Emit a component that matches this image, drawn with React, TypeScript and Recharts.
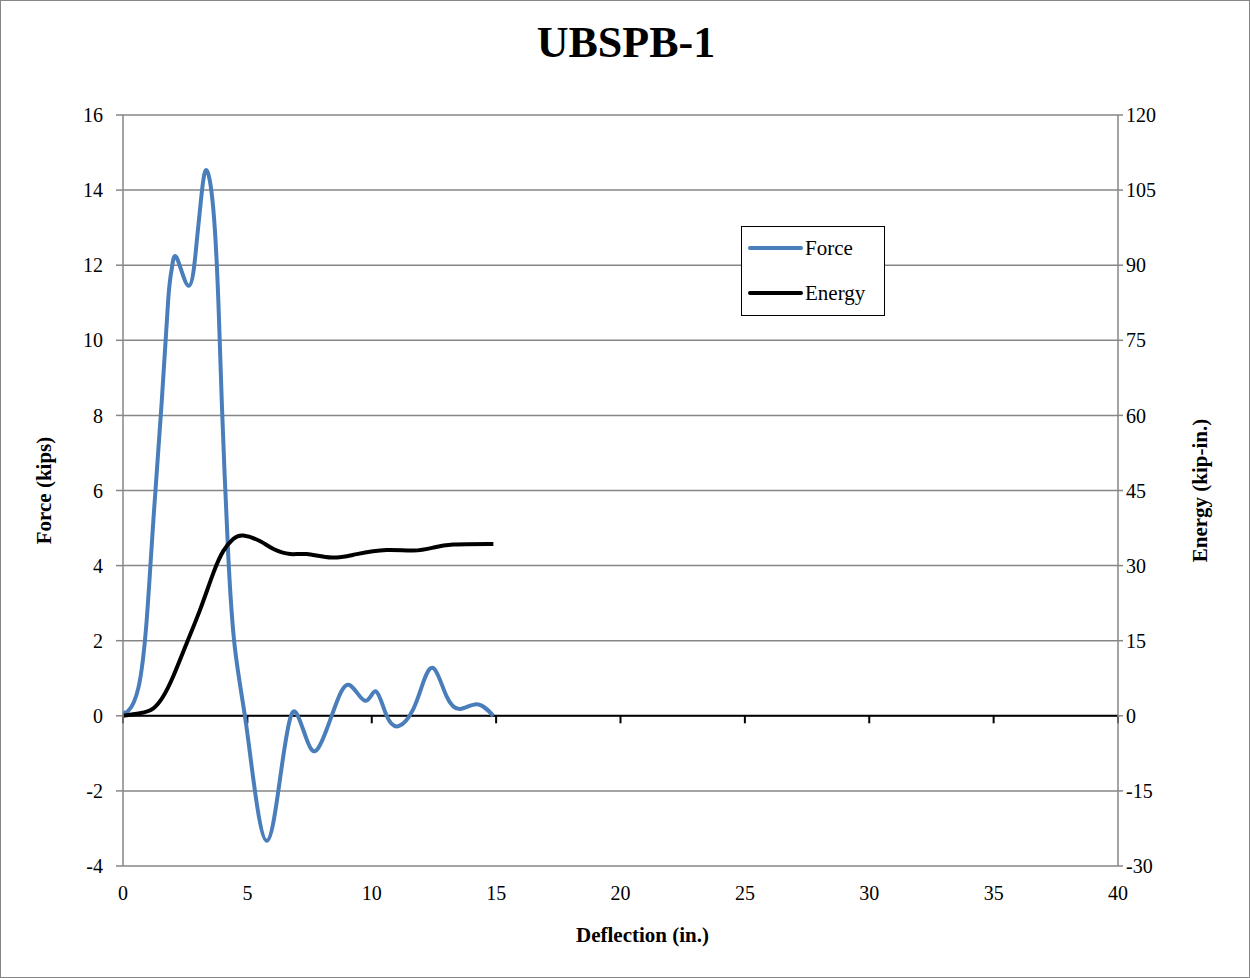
import React from 'react';
import { LineChart, Line, XAxis, YAxis, CartesianGrid, ReferenceLine, Legend } from 'recharts';

const FONT = '"Liberation Serif", "Times New Roman", serif';

const xTicks = [0, 5, 10, 15, 20, 25, 30, 35, 40];
const forceTicks = [-4, -2, 0, 2, 4, 6, 8, 10, 12, 14, 16];
const energyTicks = [-30, -15, 0, 15, 30, 45, 60, 75, 90, 105, 120];

const forceX = [0, 0.21, 0.62, 0.95, 1.22, 1.55, 1.82, 1.96, 2.16, 2.65, 2.96, 3.16, 3.36, 3.63, 3.83, 3.98, 4.23, 4.5, 4.9, 5.24, 5.78, 6.31, 6.65, 6.95, 7.38, 7.76, 8.19, 8.59, 9.1, 9.73, 10.17, 10.6, 11.1, 11.67, 12.07, 12.5, 13.0, 13.55, 14.24, 14.89];
const forceY = [0.1, 0.13, 0.75, 2.53, 5.2, 8.3, 11.1, 11.9, 12.2, 11.45, 12.6, 13.9, 14.53, 13.5, 11.1, 8.2, 4.3, 1.8, 0, -1.69, -3.33, -1.69, -0.27, 0.09, -0.62, -0.93, -0.36, 0.36, 0.82, 0.4, 0.65, 0, -0.27, 0.18, 0.89, 1.26, 0.53, 0.18, 0.31, 0];

const energyX = [0, 0.68, 1.22, 1.62, 2.02, 2.56, 3.1, 3.63, 4.03, 4.43, 4.84, 5.5, 6.05, 6.72, 7.39, 8.4, 9.4, 10.6, 11.67, 12.47, 13.28, 14.89];
const energyY = [0, 0.5, 1.5, 3.9, 7.9, 14.5, 21.2, 28.5, 32.9, 35.3, 36.0, 34.9, 33.3, 32.3, 32.3, 31.6, 32.3, 33.1, 33.0, 33.6, 34.2, 34.3];

const forceData = forceX.map((x, i) => ({ x, force: forceY[i] }));
const energyData = energyX.map((x, i) => ({ x, energy: energyY[i] }));

const legendItems = [
  { name: 'Force', color: '#4a7ebb' },
  { name: 'Energy', color: '#000000' },
];

const LegendBox = () => (
  <div style={{ width: 144, height: 90, border: '1.5px solid #000', background: '#fff', boxSizing: 'border-box', fontFamily: FONT, fontSize: 21, color: '#000', position: 'relative' }}>
    {legendItems.map((it, i) => (
      <div key={it.name} style={{ position: 'absolute', left: 6, top: 8 + i * 45, height: 26, display: 'flex', alignItems: 'center' }}>
        <div style={{ width: 55, height: 4, background: it.color, borderRadius: 2 }} />
        <span style={{ marginLeft: 2 }}>{it.name}</span>
      </div>
    ))}
  </div>
);

export default function App() {
  return (
    <div style={{ position: 'absolute', left: 0, top: 0, width: 1250, height: 978, background: '#fff', border: '1px solid #868686', boxSizing: 'border-box' }}>
      <div style={{ position: 'absolute', left: 0, width: 1250, top: 16, textAlign: 'center', fontFamily: FONT, fontWeight: 'bold', fontSize: 44, color: '#000' }}>UBSPB-1</div>
      <div style={{ position: 'absolute', left: -1, top: -1 }}>
        <LineChart width={1250} height={978} margin={{ top: 115, right: 72, bottom: 72, left: 63 }}>
          <CartesianGrid yAxisId="left" horizontal={true} vertical={false} stroke="#868686" strokeWidth={1.5} />
          <XAxis
            dataKey="x"
            type="number"
            domain={[0, 40]}
            ticks={xTicks}
            allowDuplicatedCategory={false}
            axisLine={false}
            tickLine={false}
            tickMargin={14}
            height={40}
            tick={{ fontFamily: FONT, fontSize: 20, fill: '#000' }}
            label={{ value: 'Deflection (in.)', content: (p: any) => {
              const vb = p.viewBox;
              return <text x={vb.x + vb.width / 2 + 22} y={vb.y + 76} textAnchor="middle" fontFamily={FONT} fontWeight="bold" fontSize={21} fill="#000">Deflection (in.)</text>;
            } }}
          />
          <YAxis
            yAxisId="left"
            domain={[-4, 16]}
            ticks={forceTicks}
            width={60}
            axisLine={{ stroke: '#868686', strokeWidth: 1.5 }}
            tickLine={{ stroke: '#868686', strokeWidth: 1.5 }}
            tickSize={7}
            tickMargin={13}
            tick={{ fontFamily: FONT, fontSize: 20, fill: '#000' }}
            label={{ value: 'Force (kips)', content: (p: any) => {
              const vb = p.viewBox;
              const cx = vb.x - 12;
              const cy = vb.y + vb.height / 2;
              return <text x={cx} y={cy} transform={`rotate(-90 ${cx} ${cy})`} textAnchor="middle" fontFamily={FONT} fontWeight="bold" fontSize={21} fill="#000">Force (kips)</text>;
            } }}
          />
          <YAxis
            yAxisId="right"
            orientation="right"
            domain={[-30, 120]}
            ticks={energyTicks}
            width={60}
            axisLine={{ stroke: '#868686', strokeWidth: 1.5 }}
            tickLine={{ stroke: '#868686', strokeWidth: 1.5 }}
            tickSize={5}
            tickMargin={3}
            tick={{ fontFamily: FONT, fontSize: 20, fill: '#000' }}
            label={{ value: 'Energy (kip-in.)', content: (p: any) => {
              const vb = p.viewBox;
              const cx = vb.x + vb.width + 29;
              const cy = vb.y + vb.height / 2;
              return <text x={cx} y={cy} transform={`rotate(-90 ${cx} ${cy})`} textAnchor="middle" fontFamily={FONT} fontWeight="bold" fontSize={21} fill="#000">Energy (kip-in.)</text>;
            } }}
          />
          <ReferenceLine yAxisId="left" y={0} stroke="#000" strokeWidth={2} />
          {xTicks.map((t) => (
            <ReferenceLine key={t} yAxisId="left" segment={[{ x: t, y: 0 }, { x: t, y: -0.2 }]} stroke="#000" strokeWidth={2} ifOverflow="visible" />
          ))}
          <Line yAxisId="left" data={forceData} dataKey="force" type="natural" stroke="#4a7ebb" strokeWidth={4} dot={false} isAnimationActive={false} />
          <Line yAxisId="right" data={energyData} dataKey="energy" type="natural" stroke="#000" strokeWidth={4} dot={false} isAnimationActive={false} />
          <Legend layout="horizontal" verticalAlign="middle" align="center" content={() => <LegendBox />} wrapperStyle={{ position: 'absolute', left: 741, top: 226, width: 144, height: 90 }} />
        </LineChart>
      </div>
    </div>
  );
}
